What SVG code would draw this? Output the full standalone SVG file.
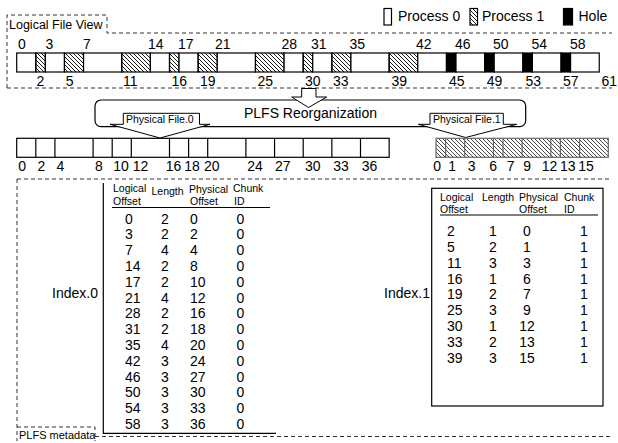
<svg xmlns="http://www.w3.org/2000/svg" width="618" height="443" viewBox="0 0 618 443">
<defs>
<pattern id="hatch" patternUnits="userSpaceOnUse" width="4" height="4">
<path d="M-1,3 L1,5 M0,0 L4,4 M3,-1 L5,1" stroke="#000" stroke-width="0.9"/>
</pattern>
<pattern id="hatchg" patternUnits="userSpaceOnUse" width="4" height="4">
<path d="M-1,3 L1,5 M0,0 L4,4 M3,-1 L5,1" stroke="#333" stroke-width="0.9"/>
</pattern>
</defs>
<style>
text{font-family:"Liberation Sans",Arial,sans-serif;fill:#000}
.t14{font-size:14px}
.t12{font-size:12.5px}
.t10{font-size:10.5px}
.dash{fill:none;stroke:#333;stroke-width:1;stroke-dasharray:4,3}
.w{fill:#fff;stroke:#000;stroke-width:1.2}
.h{fill:url(#hatch);stroke:#000;stroke-width:1.2}
.hg{fill:url(#hatchg);stroke:#666;stroke-width:1.2}
.b{fill:#000;stroke:#000;stroke-width:1.2}
.ln{fill:none;stroke:#000;stroke-width:1.2}
</style>

<g id="legend">
<rect x="384" y="8.5" width="7.5" height="16.5" class="w"/>
<text x="398" y="20.7" class="t14">Process 0</text>
<rect x="470" y="8.5" width="7.5" height="16.5" class="h"/>
<text x="482" y="20.7" class="t14">Process 1</text>
<rect x="563.5" y="8.5" width="9" height="16.5" class="b"/>
<text x="578.5" y="20.7" class="t14">Hole</text>
</g>

<g id="sections">
<path class="dash" d="M7,88 V15 H107 V33 H612"/>
<path class="dash" d="M7,88 H612"/>
<text x="9" y="29" class="t12">Logical File View</text>
<path class="dash" d="M17,179 H612"/>
<path class="dash" d="M17,179 V441"/>
<path class="dash" d="M17,427 H95 V441"/>
<path class="dash" d="M95,436.5 H612"/>
<text x="19" y="438.5" style="font-size:11px">PLFS metadata</text>
</g>

<g id="logical-file">
<rect x="16.7" y="53" width="19.1" height="19" class="w"/>
<rect x="35.8" y="53" width="9.55" height="19" class="h"/>
<rect x="45.35" y="53" width="19.1" height="19" class="w"/>
<rect x="64.45" y="53" width="19.1" height="19" class="h"/>
<rect x="83.55" y="53" width="38.2" height="19" class="w"/>
<rect x="121.75" y="53" width="28.65" height="19" class="h"/>
<rect x="150.4" y="53" width="19.1" height="19" class="w"/>
<rect x="169.5" y="53" width="9.55" height="19" class="h"/>
<rect x="179.05" y="53" width="19.1" height="19" class="w"/>
<rect x="198.15" y="53" width="19.1" height="19" class="h"/>
<rect x="217.25" y="53" width="38.2" height="19" class="w"/>
<rect x="255.45" y="53" width="28.65" height="19" class="h"/>
<rect x="284.1" y="53" width="19.1" height="19" class="w"/>
<rect x="303.2" y="53" width="9.55" height="19" class="h"/>
<rect x="312.75" y="53" width="19.1" height="19" class="w"/>
<rect x="331.85" y="53" width="19.1" height="19" class="h"/>
<rect x="350.95" y="53" width="38.2" height="19" class="w"/>
<rect x="389.15" y="53" width="28.65" height="19" class="h"/>
<rect x="417.8" y="53" width="28.65" height="19" class="w"/>
<rect x="446.45" y="53" width="9.55" height="19" class="b"/>
<rect x="456" y="53" width="28.65" height="19" class="w"/>
<rect x="484.65" y="53" width="9.55" height="19" class="b"/>
<rect x="494.2" y="53" width="28.65" height="19" class="w"/>
<rect x="522.85" y="53" width="9.55" height="19" class="b"/>
<rect x="532.4" y="53" width="28.65" height="19" class="w"/>
<rect x="561.05" y="53" width="9.55" height="19" class="b"/>
<rect x="570.6" y="53" width="28.65" height="19" class="w"/>
<g class="t14">
<text x="18" y="49.3">0</text>
<text x="45.5" y="49.3">3</text>
<text x="83" y="49.3">7</text>
<text x="148" y="49.3">14</text>
<text x="178" y="49.3">17</text>
<text x="215" y="49.3">21</text>
<text x="281.5" y="49.3">28</text>
<text x="311" y="49.3">31</text>
<text x="349.5" y="49.3">35</text>
<text x="416" y="49.3">42</text>
<text x="455" y="49.3">46</text>
<text x="493" y="49.3">50</text>
<text x="531.5" y="49.3">54</text>
<text x="570" y="49.3">58</text>
<text x="36.5" y="85.5">2</text>
<text x="65.7" y="85.5">5</text>
<text x="123" y="85.5">11</text>
<text x="171.5" y="85.5">16</text>
<text x="200" y="85.5">19</text>
<text x="257.5" y="85.5">25</text>
<text x="305" y="85.5">30</text>
<text x="333" y="85.5">33</text>
<text x="391.5" y="85.5">39</text>
<text x="449" y="85.5">45</text>
<text x="486.7" y="85.5">49</text>
<text x="525.5" y="85.5">53</text>
<text x="563" y="85.5">57</text>
<text x="601.5" y="85.5">61</text>
</g>
</g>

<g id="reorganization">
<rect x="95" y="100" width="430.7" height="26.7" rx="6" class="ln" stroke-width="1"/>
<polygon points="301.7,88.5 316,88.5 316,97 326.7,97 308.5,107.5 291.7,97 301.7,97" fill="#fff" stroke="#000" stroke-width="1"/>
<text x="310.5" y="118.3" class="t14" text-anchor="middle">PLFS Reorganization</text>
</g>

<g id="callout-0">
<polygon points="110,124.3 123.3,124.3 123.3,113.3 199.5,113.3 199.5,124.3 210,124.3 160,138" fill="#fff" stroke="#000" stroke-width="1"/>
<text x="126" y="122.5" class="t10">Physical File.0</text>
</g>
<g id="callout-1">
<polygon points="418.3,124.3 430,124.3 430,113.3 503.3,113.3 503.3,124.3 516.7,124.3 465.7,137.5" fill="#fff" stroke="#000" stroke-width="1"/>
<text x="433" y="122.5" class="t10">Physical File.1</text>
</g>

<g id="physical-file-0">
<rect x="16.7" y="138.3" width="372.45" height="19" class="w"/>
<path class="ln" d="M35.8,138.3V157.3M54.9,138.3V157.3M93.1,138.3V157.3M112.2,138.3V157.3M131.3,138.3V157.3M169.5,138.3V157.3M188.6,138.3V157.3M207.7,138.3V157.3M245.9,138.3V157.3M274.55,138.3V157.3M303.2,138.3V157.3M331.85,138.3V157.3M360.5,138.3V157.3"/>
<g class="t14">
<text x="18.3" y="171">0</text>
<text x="37.5" y="171">2</text>
<text x="56.5" y="171">4</text>
<text x="95" y="171">8</text>
<text x="113.3" y="171">10</text>
<text x="132.7" y="171">12</text>
<text x="165.7" y="171">16</text>
<text x="184.3" y="171">18</text>
<text x="204" y="171">20</text>
<text x="247.3" y="171">24</text>
<text x="275" y="171">27</text>
<text x="305" y="171">30</text>
<text x="333.3" y="171">33</text>
<text x="361.7" y="171">36</text>
</g>
</g>

<g id="physical-file-1">
<rect x="436" y="138.3" width="172.3" height="19" class="hg"/>
<path d="M445.6,138.3V157.3M464.7,138.3V157.3M493.4,138.3V157.3M503,138.3V157.3M522.1,138.3V157.3M550.8,138.3V157.3M560.4,138.3V157.3M579.6,138.3V157.3" fill="none" stroke="#666" stroke-width="1.2"/>
<g class="t14">
<text x="433.3" y="171">0</text>
<text x="448.3" y="171">1</text>
<text x="467.7" y="171">3</text>
<text x="489.3" y="171">6</text>
<text x="506.7" y="171">7</text>
<text x="523.3" y="171">9</text>
<text x="541.7" y="171">12</text>
<text x="560" y="171">13</text>
<text x="578.3" y="171">15</text>
</g>
</g>

<g id="index-0">
<text x="52" y="298" class="t14">Index.0</text>
<path class="ln" d="M103.3,183 V433.3 H276"/>
<g class="t10">
<text x="113" y="192">Logical</text>
<text x="113" y="204.5">Offset</text>
<text x="151.5" y="195">Length</text>
<text x="189" y="193">Physical</text>
<text x="190" y="205">Offset</text>
<text x="233" y="192">Chunk</text>
<text x="234" y="205">ID</text>
</g>
<path class="ln" d="M112,207.5 H270" stroke-width="1"/>
<g class="t14">
<text x="125" y="223.5">0</text><text x="161" y="223.5">2</text><text x="190" y="223.5">0</text><text x="236.5" y="223.5">0</text>
<text x="125" y="239.3">3</text><text x="161" y="239.3">2</text><text x="190" y="239.3">2</text><text x="236.5" y="239.3">0</text>
<text x="125" y="255.1">7</text><text x="161" y="255.1">4</text><text x="190" y="255.1">4</text><text x="236.5" y="255.1">0</text>
<text x="125" y="270.9">14</text><text x="161" y="270.9">2</text><text x="190" y="270.9">8</text><text x="236.5" y="270.9">0</text>
<text x="125" y="286.7">17</text><text x="161" y="286.7">2</text><text x="190" y="286.7">10</text><text x="236.5" y="286.7">0</text>
<text x="125" y="302.5">21</text><text x="161" y="302.5">4</text><text x="190" y="302.5">12</text><text x="236.5" y="302.5">0</text>
<text x="125" y="318.3">28</text><text x="161" y="318.3">2</text><text x="190" y="318.3">16</text><text x="236.5" y="318.3">0</text>
<text x="125" y="334.1">31</text><text x="161" y="334.1">2</text><text x="190" y="334.1">18</text><text x="236.5" y="334.1">0</text>
<text x="125" y="349.9">35</text><text x="161" y="349.9">4</text><text x="190" y="349.9">20</text><text x="236.5" y="349.9">0</text>
<text x="125" y="365.7">42</text><text x="161" y="365.7">3</text><text x="190" y="365.7">24</text><text x="236.5" y="365.7">0</text>
<text x="125" y="381.5">46</text><text x="161" y="381.5">3</text><text x="190" y="381.5">27</text><text x="236.5" y="381.5">0</text>
<text x="125" y="397.3">50</text><text x="161" y="397.3">3</text><text x="190" y="397.3">30</text><text x="236.5" y="397.3">0</text>
<text x="125" y="413.1">54</text><text x="161" y="413.1">3</text><text x="190" y="413.1">33</text><text x="236.5" y="413.1">0</text>
<text x="125" y="428.9">58</text><text x="161" y="428.9">3</text><text x="190" y="428.9">36</text><text x="236.5" y="428.9">0</text>
</g>
</g>

<g id="index-1">
<text x="384" y="298" class="t14">Index.1</text>
<rect x="431.7" y="188.3" width="171.3" height="217.7" class="ln"/>
<g class="t10">
<text x="440" y="201">Logical</text>
<text x="440" y="212.5">Offset</text>
<text x="482" y="201">Length</text>
<text x="519" y="201">Physical</text>
<text x="519" y="213">Offset</text>
<text x="564" y="201">Chunk</text>
<text x="564" y="213">ID</text>
</g>
<path class="ln" d="M440,215 H598" stroke-width="1"/>
<g class="t14">
<text x="447" y="236">2</text><text x="489" y="236">1</text><text x="527" y="236" text-anchor="middle">0</text><text x="580" y="236">1</text>
<text x="447" y="251.9">5</text><text x="489" y="251.9">2</text><text x="527" y="251.9" text-anchor="middle">1</text><text x="580" y="251.9">1</text>
<text x="447" y="267.7">11</text><text x="489" y="267.7">3</text><text x="527" y="267.7" text-anchor="middle">3</text><text x="580" y="267.7">1</text>
<text x="447" y="283.6">16</text><text x="489" y="283.6">1</text><text x="527" y="283.6" text-anchor="middle">6</text><text x="580" y="283.6">1</text>
<text x="447" y="299.4">19</text><text x="489" y="299.4">2</text><text x="527" y="299.4" text-anchor="middle">7</text><text x="580" y="299.4">1</text>
<text x="447" y="315.3">25</text><text x="489" y="315.3">3</text><text x="527" y="315.3" text-anchor="middle">9</text><text x="580" y="315.3">1</text>
<text x="447" y="331.1">30</text><text x="489" y="331.1">1</text><text x="527" y="331.1" text-anchor="middle">12</text><text x="580" y="331.1">1</text>
<text x="447" y="347">33</text><text x="489" y="347">2</text><text x="527" y="347" text-anchor="middle">13</text><text x="580" y="347">1</text>
<text x="447" y="362.8">39</text><text x="489" y="362.8">3</text><text x="527" y="362.8" text-anchor="middle">15</text><text x="580" y="362.8">1</text>
</g>
</g>
</svg>
